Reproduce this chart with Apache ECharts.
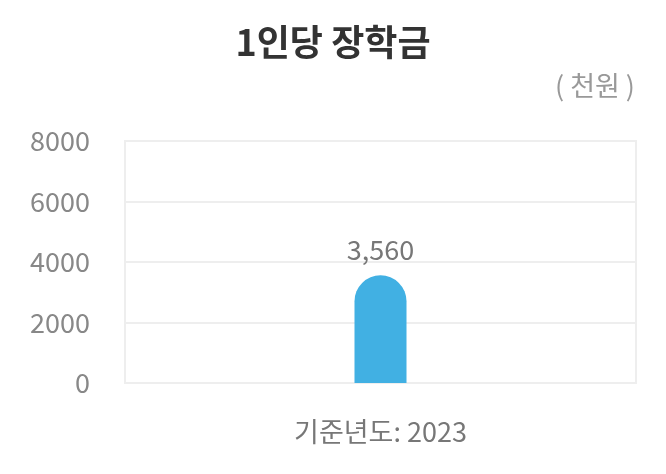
<!DOCTYPE html>
<html><head><meta charset="utf-8">
<script src="https://cdn.jsdelivr.net/npm/echarts@6/dist/echarts.min.js"></script>
<style>html,body{margin:0;padding:0;background:#fff}#c{width:666px;height:474px}</style>
</head><body><div id="c"></div>
<script>
const categories = ['기준년도: 2023'];
const values = [3560];
const yTicks = [0, 2000, 4000, 6000, 8000];
const titleText = '1인당 장학금';
const unitText = '( 천원 )';

const font = '"Noto Sans CJK KR", "Noto Sans", sans-serif';
const chart = echarts.init(document.getElementById('c'), null, {renderer: 'canvas'});
chart.setOption({
  animation: false,
  title: [{
    text: titleText, left: 'center', top: 19, itemGap: 0,
    textStyle: {fontFamily: font, fontSize: 36, fontWeight: 'bold', color: '#333'}
  }, {
    text: unitText, right: 26, top: 67,
    textStyle: {fontFamily: font, fontSize: 27, fontWeight: 'normal', color: '#999'}
  }],
  grid: {left: 125, right: 30, top: 141, bottom: 91, show: true, borderColor: '#eeeeee', borderWidth: 2, containLabel: false},
  xAxis: {
    type: 'category', data: categories,
    axisLine: {show: false}, axisTick: {show: false},
    axisLabel: {fontFamily: font, fontSize: 27, color: '#777', margin: 35}
  },
  yAxis: {
    type: 'value', min: yTicks[0], max: yTicks[yTicks.length - 1], interval: 2000,
    axisLine: {show: false}, axisTick: {show: false},
    splitLine: {lineStyle: {color: '#eeeeee', width: 2}},
    axisLabel: {fontFamily: font, fontSize: 27, color: '#888', margin: 35, formatter: v => String(v)}
  },
  series: [{
    type: 'bar', data: values, barWidth: 52,
    itemStyle: {color: '#41b0e3', borderRadius: [26, 26, 0, 0]},
    label: {show: true, position: 'top', distance: 12, fontFamily: font, fontSize: 27, color: '#777',
      formatter: p => p.value.toLocaleString('en-US')}
  }]
});
</script></body></html>
